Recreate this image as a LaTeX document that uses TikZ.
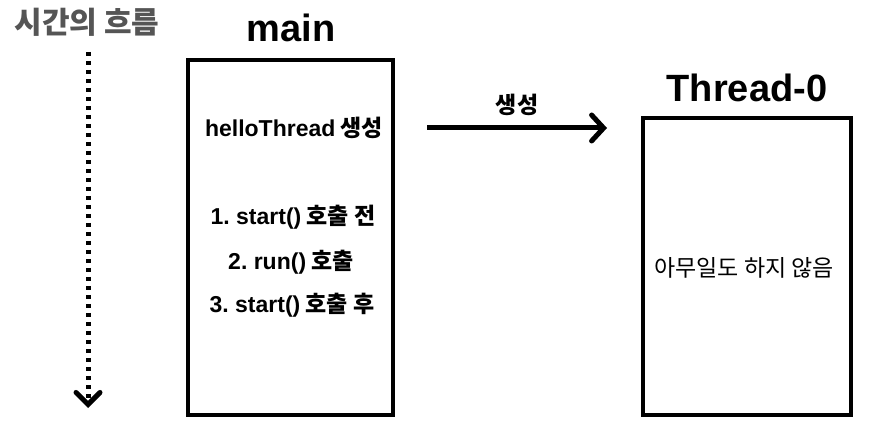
\documentclass[tikz,border=0pt]{standalone}
\usepackage{fontspec}
\setmainfont{Noto Sans CJK KR}
\newfontfamily\latin{Liberation Sans}
\usetikzlibrary{arrows.meta}
\usetikzlibrary{positioning}
\definecolor{timegray}{HTML}{555555}
\frenchspacing

\begin{document}
\begin{tikzpicture}[x=1pt,y=-1pt,
  threadbox/.style={draw,line width=4pt,inner sep=0pt},
  title/.style={font=\fontsize{38}{42}\selectfont\bfseries},
  step label/.style={font=\fontsize{23}{27}\selectfont\bfseries},
  plain label/.style={font=\fontsize{23}{27}\selectfont}]
 \useasboundingbox (0,0) rectangle (872,427);

 % time axis
 \node[font=\fontsize{30}{34}\selectfont\bfseries,text=timegray] (timelabel) at (87,22) {시간의 흐름};
 \coordinate (timetop) at (88,52);
 \coordinate (timebot) at (88,408);
 \draw[line width=5pt,dash pattern=on 4pt off 5pt,
   -{Straight Barb[length=12pt,width=24pt,line cap=round]}] (timetop) -- (timebot);

 % main thread
 \node[threadbox,minimum width=205pt,minimum height=355pt] (mainbox) at (290.5,237.5) {};
 \node[title] (maintitle) at (291,28) {\latin main};
 \node[step label] (create) at (294,128) {{\latin helloThread} 생성};
 \node[step label] (stepone) at (293,217) {{\latin 1. start()} 호출 전};
 \node[step label] (steptwo) at (291,262) {{\latin 2. run()} 호출};
 \node[step label] (stepthree) at (292,305) {{\latin 3. start()} 호출 후};

 % new thread
 \node[threadbox,minimum width=208pt,minimum height=297pt] (threadbox0) at (747,266.5) {};
 \node[title] (threadtitle) at (747,88) {\latin Thread-0};
 \node[plain label] (idle) at (744,268) {아무일도 하지 않음};

 \coordinate (genstart) at (427,128);
 \coordinate (genend) at (607,128);
 \draw[line width=5pt,-{Straight Barb[length=12pt,width=26pt,line cap=round]}] (genstart) -- (genend)
   node[midway,above=6pt,step label] (genlabel) {생성};
\end{tikzpicture}
\end{document}
